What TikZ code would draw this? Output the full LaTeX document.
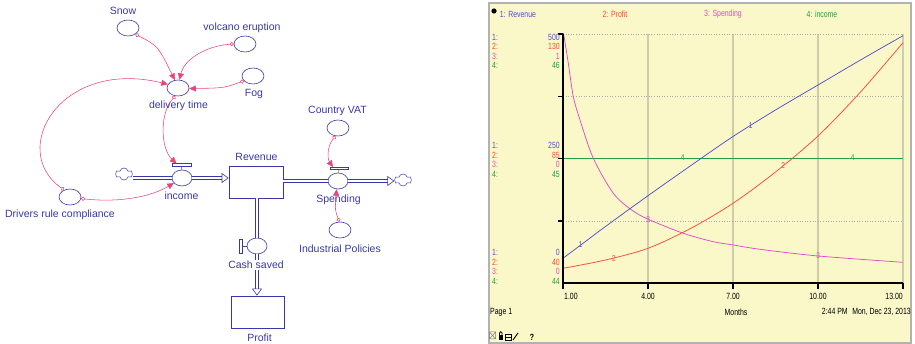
\documentclass[tikz,border=0pt]{standalone}
\usepackage{fontspec}
\setmainfont{Liberation Sans}
\newfontfamily\chartfont[FakeStretch=0.77]{Liberation Sans}
\usetikzlibrary{arrows.meta,calc,shapes.geometric,shapes.symbols}
\definecolor{stblue}{HTML}{3838A8}
\definecolor{lnk}{HTML}{E8457C}
\definecolor{paper}{HTML}{FAF8C8}
\definecolor{cblue}{HTML}{5050CC}
\definecolor{cred}{HTML}{FF4838}
\definecolor{cmag}{HTML}{E04CC8}
\definecolor{cgreen}{HTML}{20A040}
\definecolor{gridc}{HTML}{CDCDAA}
\begin{document}
\begin{tikzpicture}[x=1pt,y=-1pt,
  conv/.style={draw=stblue,ellipse,line width=0.6pt,minimum width=22pt,minimum height=16pt,inner sep=0pt},
  valve/.style={conv,minimum width=20pt},
  stock/.style={draw=stblue,line width=0.7pt,inner sep=0pt,minimum width=54pt,minimum height=32pt},
  vbar/.style={draw=stblue,fill=white,line width=0.5pt,inner sep=0pt},
  lbl/.style={text=stblue,font=\fontsize{10.5}{12}\selectfont,inner sep=0pt},
  link/.style={draw=lnk,line width=0.55pt,{Circle[open,length=4pt,width=4pt]}-{Triangle[length=6.5pt,width=6pt]}},
  flow/.style={draw=stblue,line width=0.55pt,double=white,double distance=2.2pt},
  fin/.style={-{Triangle[open,length=7pt,width=10pt,line width'=0.6pt]}},
  cld/.style={cloud,draw=stblue,cloud puffs=6,line width=0.5pt,minimum width=17pt,minimum height=12pt,inner sep=0pt},
  num/.style={font=\chartfont\fontsize{9}{10}\selectfont,inner sep=0pt},
  tag/.style={font=\chartfont\fontsize{8.5}{9}\selectfont,inner sep=0.5pt}]
\useasboundingbox (0,0) rectangle (915,344);
% stock and flow model
\node[conv] (snow) at (128,28) {};
\node[conv] (volc) at (245,44) {};
\node[conv] (fog) at (253,76) {};
\node[conv] (deliv) at (178,88) {};
\node[conv] (vat) at (338,128) {};
\node[conv] (drv) at (70,197) {};
\node[conv] (ind) at (340,230) {};
\node[valve] (income) at (182,178) {};
\node[valve] (spend) at (338,181) {};
\node[valve] (cash) at (257,246) {};
\node[stock] (revenue) at (256,182) {};
\node[stock,minimum width=53pt] (profit) at (257.5,312) {};
\node[cld] (srcl) at (124,174) {};
\node[cld] (snkr) at (403,180) {};
\node[vbar,minimum width=19pt,minimum height=2.5pt] (incbar) at (181.5,165) {};
\node[vbar,minimum width=18pt,minimum height=2.5pt] (spbar) at (339,168.5) {};
\node[vbar,minimum width=2.5pt,minimum height=14pt] (cbar) at (240.5,246) {};
\draw[stblue,line width=0.5pt] (incbar) -- (income);
\draw[stblue,line width=0.5pt] (spbar) -- (spend);
\draw[stblue,line width=0.5pt] (cbar) -- (cash);
% pipes
\draw[flow] (srcl.east |- income) -- (income.west);
\draw[flow,fin] (income.east) -- (revenue.west |- income);
\draw[flow] (revenue.east |- spend) -- (spend.west);
\draw[flow,fin] (spend.east) -- (snkr.west |- spend);
\draw[flow] (revenue.south -| cash) -- (cash.north);
\draw[flow,fin] (cash.south) -- (profit.north -| cash);
% links
\draw[link] (snow.-40) .. controls (158,46) .. (deliv.112);
\draw[link] (volc.180) .. controls (205,46) and (184,60) .. (deliv.80);
\draw[link] (fog.208) .. controls (224,88) .. (deliv.-3);
\draw[link] (deliv.-108) .. controls (160,112) and (160,148) .. ($(incbar.north)+(-5,0)$);
\draw[link] (drv.130) .. controls (8,150) and (60,58) .. (deliv.160);
\draw[link] (drv.-8) .. controls (122,203) and (152,196) .. (income.212);
\draw[link] (vat.-108) .. controls (326,148) and (328,160) .. ($(spbar.north)+(-6,0)$);
\draw[link] (ind.95) .. controls (335,210) .. (spend.-100);
% labels
\node[lbl] (snowtx) at (123,11) {Snow};
\node[lbl] (volctx) at (242,28) {volcano eruption};
\node[lbl] (fogtx) at (254,93.5) {Fog};
\node[lbl] (delivtx) at (178.5,106) {delivery time};
\node[lbl] (vattx) at (337.5,111) {Country VAT};
\node[lbl] (revtx) at (256.5,156.5) {Revenue};
\node[lbl] (inctx) at (181.5,195.5) {income};
\node[lbl] (spendtx) at (338.5,199.5) {Spending};
\node[lbl] (drvtx) at (60,214.5) {Drivers rule compliance};
\node[lbl] (indtx) at (340,248.5) {Industrial Policies};
\node[lbl,fill=white,inner ysep=1.5pt] (cashtx) at (256,265) {Cash saved};
\node[lbl] (proftx) at (259.5,337.5) {Profit};
% graph panel
\fill[paper] (489,3) rectangle (911,343);
\draw[gray!60,line width=1.2pt] (489,3) rectangle (911,343);
\foreach \gx in {648,733,818,903} \draw[gridc,line width=1.2pt] (\gx,34) -- (\gx,283);
\foreach \gy in {34,96.7,158.3,221} \draw[gray!65,dotted,line width=0.6pt] (563,\gy) -- (903,\gy);
\draw[cgreen,line width=0.8pt] (563,158.3) -- (903,158.3);
\draw[cmag,line width=0.75pt] plot[smooth,tension=0.5] coordinates {(563.5,33) (568.3,63.3) (573.3,96.7) (580,120) (593.3,158.3) (613.3,193.3) (631.7,210) (648.3,219.3) (683.3,233.3) (713.3,241.7) (733.3,245) (760,249.3) (818.3,256) (902.7,262.3)};
\draw[cblue,line width=0.75pt] plot[smooth] coordinates {(563,258.3) (605.5,226.5) (648,195.7) (690.5,165.8) (733,136.5) (775.5,110) (818,85) (860.5,60) (903,35.7)};
\draw[cred,line width=0.75pt] plot[smooth] coordinates {(563,268.3) (605.5,260) (648,248.3) (690.5,228.5) (733,203.3) (775.5,172) (818,136) (860.5,92) (903,42.7)};
\node[tag,text=cblue] (r1) at (580.7,245) {1};
\node[tag,text=cblue] (r2) at (750.7,125.5) {1};
\node[tag,text=cred] (p1) at (614,258.3) {2};
\node[tag,text=cred] (p2) at (783.3,165.5) {2};
\node[tag,text=cmag] (s1) at (648.3,219.3) {3};
\node[tag,text=cmag] (s2) at (818.3,256) {3};
\node[tag,text=cgreen] (i1) at (682.7,157.7) {4};
\node[tag,text=cgreen] (i2) at (852.7,157.7) {4};
\draw[black,line width=1.6pt] (563,34) -- (563,283) -- (903,283);
\foreach \gy in {34,96.7,158.3,221} \draw[line width=1.2pt] (558,\gy) -- (563,\gy);
\foreach \gx in {563,648,733,818,903} \draw[line width=1.2pt] (\gx,283) -- (\gx,289);
% legend and scales
\fill (494,11) circle (2.6pt);
\node[num,text=cblue] (h1) at (518,14) {1: Revenue};
\node[num,text=cred] (h2) at (615,14) {2: Profit};
\node[num,text=cmag] (h3) at (723,14) {3: Spending};
\node[num,text=cgreen] (h4) at (822,14) {4: income};
\foreach \yy/\va/\vb/\vc/\vd [count=\i] in {37/500/130/1/46,145.5/250/85/0/45,252.5/0/40/0/44}{
  \node[num,text=cblue,anchor=west] (ka\i) at (492,\yy) {1:};
  \node[num,text=cred,anchor=west] (kb\i) at (492,\yy+9.5) {2:};
  \node[num,text=cmag,anchor=west] (kc\i) at (492,\yy+19) {3:};
  \node[num,text=cgreen,anchor=west] (kd\i) at (492,\yy+28.5) {4:};
  \node[num,text=cblue,anchor=east] (va\i) at (560,\yy) {\va};
  \node[num,text=cred,anchor=east] (vb\i) at (560,\yy+9.5) {\vb};
  \node[num,text=cmag,anchor=east] (vc\i) at (560,\yy+19) {\vc};
  \node[num,text=cgreen,anchor=east] (vd\i) at (560,\yy+28.5) {\vd};
}
\node[num,anchor=west] (t1) at (564,296) {1.00};
\node[num] (t4) at (648,296) {4.00};
\node[num] (t7) at (733,296) {7.00};
\node[num] (t10) at (818,296) {10.00};
\node[num,anchor=east] (t13) at (903,296) {13.00};
\node[num,anchor=west] (page) at (490,312) {Page 1};
\node[num] (months) at (736,312) {Months};
\node[num,anchor=east] (stamp) at (911,312) {2:44 PM\enspace Mon, Dec 23, 2013};
% tool icons
\draw[gray,line width=0.5pt] (489.5,332) rectangle (495.5,339) (489.5,332) -- (495.5,339) (489.5,339) -- (495.5,332);
\fill (498.5,335.5) rectangle (503,340);
\draw[line width=0.8pt] (499.5,335.5) -- (499.5,333) arc (180:0:1.3pt) -- (502,335.5);
\draw[line width=0.6pt] (505,334) rectangle (511,340) (505,337) -- (511,337);
\draw[line width=0.9pt] (513,340) -- (518,333);
\node[num,font=\chartfont\fontsize{9}{10}\selectfont\bfseries] (help) at (532,337) {?};
\end{tikzpicture}
\end{document}
